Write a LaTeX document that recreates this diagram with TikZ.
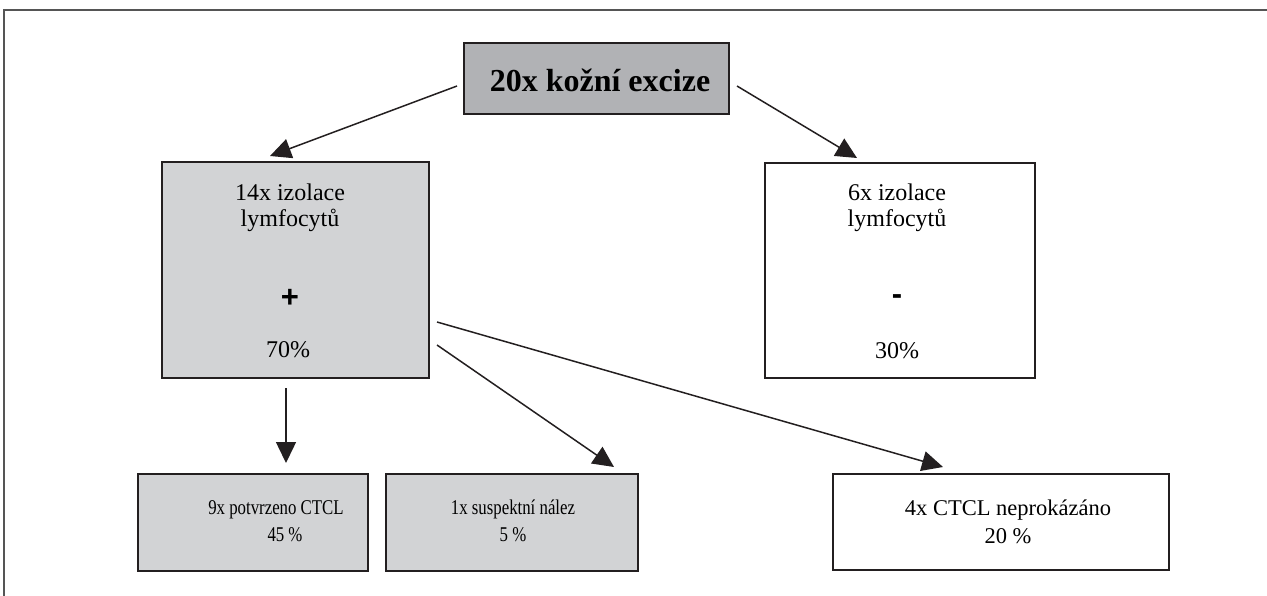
\documentclass[tikz,border=0pt]{standalone}
\usepackage{fontspec}
\setmainfont{Liberation Serif}
\newfontfamily\sansfont{Liberation Sans}
\newfontfamily\condserif[FakeStretch=0.8]{Liberation Serif}
\usetikzlibrary{arrows.meta}
\definecolor{dgray}{HTML}{B1B2B5}
\definecolor{lgray}{HTML}{D2D3D5}
\definecolor{edge}{HTML}{231F20}
\definecolor{framec}{HTML}{555555}
\begin{document}
\begin{tikzpicture}[x=1pt,y=-1pt,
  box/.style={draw=edge,line width=2.4pt,inner sep=0pt,outer sep=0pt},
  arr/.style={draw=edge,line width=1.5pt,-{Triangle[length=21pt,width=20pt]}},
  midtxt/.style={anchor=base,inner sep=0pt,font=\fontsize{24}{26}\selectfont},
  signtxt/.style={anchor=base,inner sep=0pt,font=\sansfont\bfseries\fontsize{31}{31}\selectfont},
  bottxt/.style={anchor=base,inner sep=0pt,font=\condserif\fontsize{21}{24}\selectfont},
  bigbottxt/.style={anchor=base,inner sep=0pt,font=\fontsize{22.5}{26}\selectfont},
  frameline/.style={draw=framec,line width=1.5pt}]
\useasboundingbox (0,0) rectangle (1267,596);
\draw[frameline] (4,596) -- (4,10) -- (1267,10);

% top box
\node[box,fill=dgray,minimum width=265pt,minimum height=71pt] (top) at (596.5,78.5) {};
\node[anchor=base,inner sep=0pt,font=\fontsize{32}{36}\selectfont\bfseries] (toptext) at (600,92) {20x kožní excize};

% middle left
\node[box,fill=lgray,minimum width=267pt,minimum height=216pt] (L) at (295.5,270) {};
\node[midtxt] (Lt1) at (290,201) {14x izolace};
\node[midtxt] (Lt2) at (290,227) {lymfocytů};
\node[signtxt] (Lplus) at (290,307) {+};
\node[midtxt] (Lp) at (288,357) {70\%};

% middle right
\node[box,fill=white,minimum width=270pt,minimum height=215pt] (R) at (900,270.5) {};
\node[midtxt] (Rt1) at (897,201) {6x izolace};
\node[midtxt] (Rt2) at (897,227) {lymfocytů};
\node[signtxt] (Rminus) at (897,305) {-};
\node[midtxt] (Rp) at (897,358) {30\%};

% bottom boxes
\node[box,fill=lgray,minimum width=230pt,minimum height=97pt] (b1) at (253,522.5) {};
\node[bottxt] (b1t1) at (276,514) {9x potvrzeno CTCL};
\node[bottxt] (b1t2) at (285,541) {45 \%};
\node[box,fill=lgray,minimum width=252pt,minimum height=97pt] (b2) at (512,522.5) {};
\node[bottxt] (b2t1) at (513,514) {1x suspektní nález};
\node[bottxt] (b2t2) at (513,541) {5 \%};
\node[box,fill=white,minimum width=336pt,minimum height=96pt] (b3) at (1001,522) {};
\node[bigbottxt] (b3t1) at (1008,515) {4x CTCL neprokázáno};
\node[bigbottxt] (b3t2) at (1008,543) {20 \%};

% connector coordinates
\coordinate (a1s) at (457,86);
\coordinate (a1e) at (270,156);
\coordinate (a2s) at (737,86);
\coordinate (a2e) at (857,158);
\coordinate (a3s) at (286,388);
\coordinate (a3e) at (286,463);
\coordinate (a4s) at (437,345);
\coordinate (a4e) at (614,467);
\coordinate (a5s) at (437,322);
\coordinate (a5e) at (943,467);

\draw[arr] (a1s) -- (a1e);
\draw[arr] (a2s) -- (a2e);
\draw[arr] (a3s) -- (a3e);
\draw[arr] (a4s) -- (a4e);
\draw[arr] (a5s) -- (a5e);
\end{tikzpicture}
\end{document}
